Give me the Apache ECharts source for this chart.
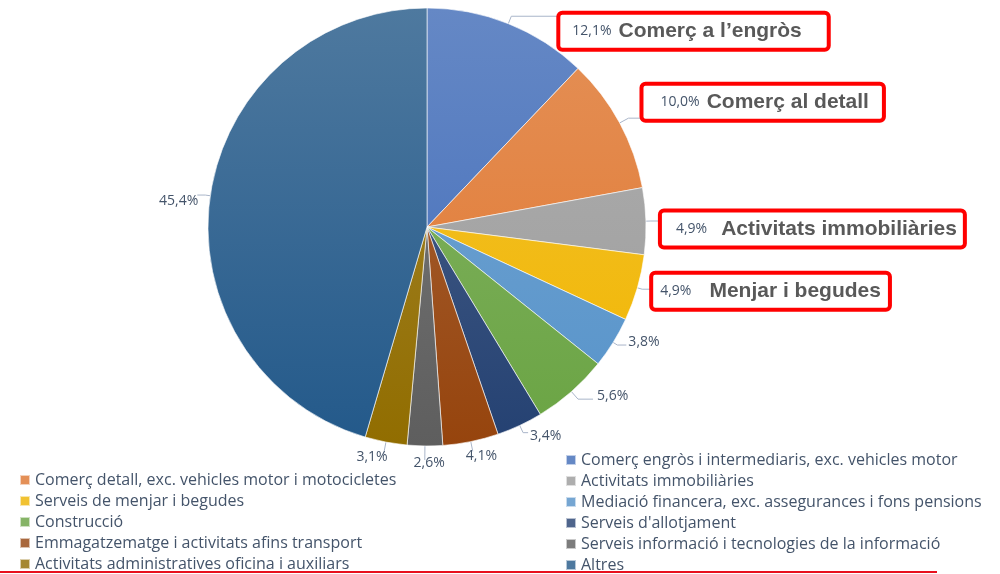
<!DOCTYPE html>
<html>
<head>
<meta charset="utf-8">
<script src="https://cdn.jsdelivr.net/npm/echarts@6/dist/echarts.min.js"></script>
<style>
html, body { margin: 0; padding: 0; background: #fff; }
#chart { width: 1000px; height: 574px; }
</style>
</head>
<body>
<div id="chart"></div>
<script>
// sectors, clockwise from 12 o'clock
var categories = [
    'Comerç engròs i intermediaris, exc. vehicles motor',
    'Comerç detall, exc. vehicles motor i motocicletes',
    'Activitats immobiliàries',
    'Serveis de menjar i begudes',
    'Mediació financera, exc. assegurances i fons pensions',
    'Construcció',
    "Serveis d'allotjament",
    'Emmagatzematge i activitats afins transport',
    'Serveis informació i tecnologies de la informació',
    'Activitats administratives oficina i auxiliars',
    'Altres'
];
var values = [12.1, 10.0, 4.9, 4.9, 3.8, 5.6, 3.4, 4.1, 2.6, 3.1, 45.4];
// highlighted call-outs (red boxes)
var calloutNames = ['Comerç a l’engròs', 'Comerç al detall', 'Activitats immobiliàries', 'Menjar i begudes'];

var legendLeftItems = [categories[1], categories[3], categories[5], categories[7], categories[9]];
var legendRightItems = [categories[0], categories[2], categories[4], categories[6], categories[8], categories[10]];

var colors = ['#4472C4', '#ED7D31', '#A5A5A5', '#FFC000', '#5B9BD5', '#70AD47',
              '#264478', '#9E480E', '#636363', '#997300', '#255E91'];

// label line tuning per slice
var len1 = [8, 10, 5, 5, 5, 10, 8, 10, 14, 12, 5];
var len2 = [47, 13, 9, 9, 9, 15, 5, 0, 0, 0, 8];
var dxs = [0, 0, 0, 0, 0, 2, 0, -9, 22, 6, 3];
var dys = [15, -16, 8, 2, -3, -3, 3, 5, 3, 3, 6];
// call-out box padding [top, right, bottom, left] and gap after the percentage
var boxPad = [[6, 25, 6, 12], [6, 13, 6, 17], [6, 6, 6, 14], [6, 7, 6, 7]];
var boxGap = [7, 7, 14, 18];

function mix(hex, target, t) {
    var a = parseInt(hex.slice(1), 16), b = parseInt(target.slice(1), 16);
    var r = Math.round(((a >> 16) & 255) * (1 - t) + ((b >> 16) & 255) * t);
    var g = Math.round(((a >> 8) & 255) * (1 - t) + ((b >> 8) & 255) * t);
    var bl = Math.round((a & 255) * (1 - t) + (b & 255) * t);
    return 'rgb(' + r + ',' + g + ',' + bl + ')';
}

function fmt(v) {
    return v.toFixed(1).replace('.', ',') + '%';
}

var chart = echarts.init(document.getElementById('chart'));

var pieData = values.map(function (v, i) {
    var item = {
        name: categories[i],
        value: v,
        itemStyle: {
            color: new echarts.graphic.LinearGradient(0, 8, 0, 446, [
                {offset: 0, color: mix(colors[i], '#c8c8c8', 0.25)},
                {offset: 1, color: mix(colors[i], '#000000', 0.05)}
            ], true)
        },
        labelLine: {length: len1[i], length2: len2[i]}
    };
    if (i < calloutNames.length) {
        item.label = {
            formatter: '{p|' + fmt(v) + '}{n|' + calloutNames[i] + '}',
            borderColor: '#ff0000',
            borderWidth: 4,
            borderRadius: 2,
            padding: boxPad[i],
            backgroundColor: '#fff',
            rich: {
                p: {fontFamily: 'Open Sans', fontSize: 14, color: '#44546A', padding: [0, boxGap[i], 0, 0]},
                n: {fontFamily: 'Liberation Sans', fontSize: 21, fontWeight: 'bold', color: '#595959'}
            }
        };
    }
    return item;
});

var legendText = {fontFamily: 'Open Sans', fontSize: 16, color: '#44546A', lineHeight: 16};

var option = {
    animation: false,
    color: colors,
    textStyle: {fontFamily: 'Open Sans'},
    legend: [
        {
            data: legendLeftItems,
            orient: 'vertical',
            left: 14,
            top: 467,
            height: 150,
            icon: 'rect',
            itemWidth: 10,
            itemHeight: 10,
            itemGap: 5,
            selectedMode: false,
            textStyle: legendText
        },
        {
            data: legendRightItems,
            orient: 'vertical',
            left: 560,
            top: 447,
            height: 160,
            icon: 'rect',
            itemWidth: 10,
            itemHeight: 10,
            itemGap: 5,
            selectedMode: false,
            textStyle: legendText
        }
    ],
    series: [
        {
            type: 'pie',
            center: [427, 227],
            radius: 219,
            startAngle: 90,
            clockwise: true,
            avoidLabelOverlap: false,
            minShowLabelAngle: 0,
            itemStyle: {borderColor: 'rgba(255,255,255,0.6)', borderWidth: 1},
            label: {
                show: true,
                position: 'outside',
                alignTo: 'none',
                distanceToLabelLine: 2,
                fontFamily: 'Open Sans',
                fontSize: 14,
                color: '#44546A',
                formatter: function (p) { return fmt(p.value); }
            },
            labelLine: {show: true, lineStyle: {color: '#A9B5C9', width: 1}},
            labelLayout: function (params) {
                return {dx: dxs[params.dataIndex], dy: dys[params.dataIndex]};
            },
            emphasis: {disabled: true},
            data: pieData
        }
    ],
    graphic: [
        {
            type: 'line',
            shape: {x1: 0, y1: 572, x2: 937, y2: 572},
            style: {stroke: '#E8101E', lineWidth: 2}
        }
    ]
};

chart.setOption(option);
</script>
</body>
</html>
